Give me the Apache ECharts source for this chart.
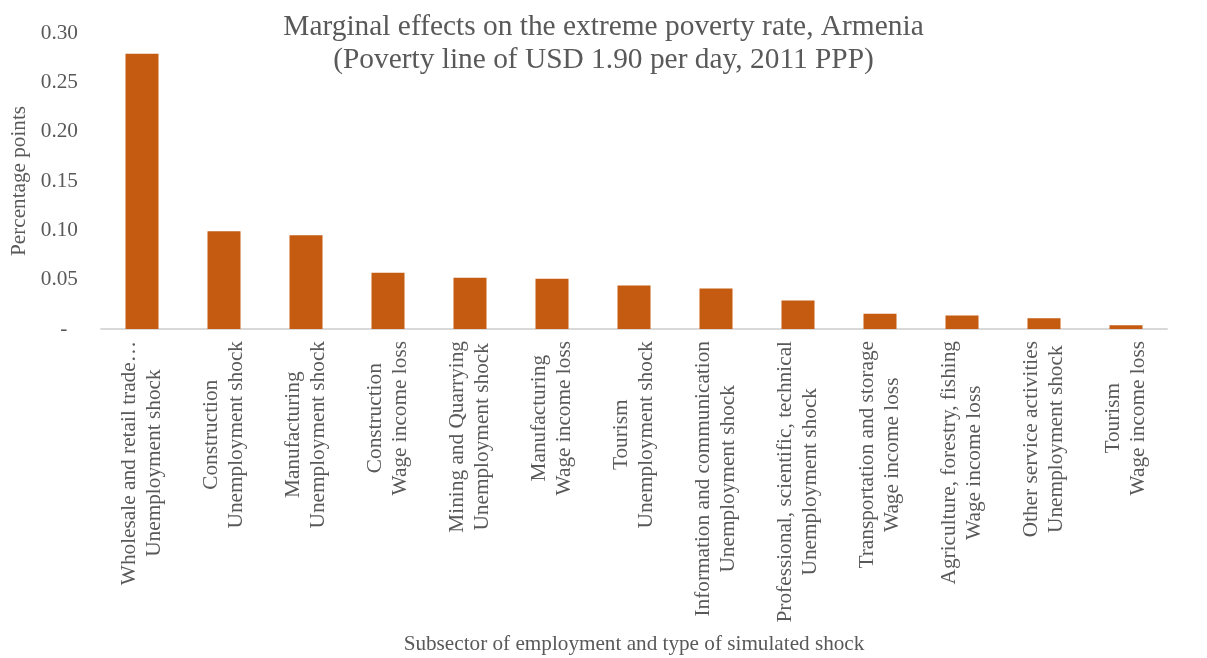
<!DOCTYPE html>
<html>
<head>
<meta charset="utf-8">
<script src="https://cdn.jsdelivr.net/npm/echarts@6/dist/echarts.min.js"></script>
<style>html,body{margin:0;padding:0;background:#fff}#c{width:1207px;height:658px}</style>
</head>
<body>
<div id="c"></div>
<script>
const titleLines = ['Marginal effects on the extreme poverty rate, Armenia', '(Poverty line of USD 1.90 per day, 2011 PPP)'];
const categories = [
  'Wholesale and retail trade…\nUnemployment shock',
  'Construction\nUnemployment shock',
  'Manufacturing\nUnemployment shock',
  'Construction\nWage income loss',
  'Mining and Quarrying\nUnemployment shock',
  'Manufacturing\nWage income loss',
  'Tourism\nUnemployment shock',
  'Information and communication\nUnemployment shock',
  'Professional, scientific, technical\nUnemployment shock',
  'Transportation and storage\nWage income loss',
  'Agriculture, forestry, fishing\nWage income loss',
  'Other service activities\nUnemployment shock',
  'Tourism\nWage income loss'
];
const values = [0.279, 0.099, 0.095, 0.057, 0.052, 0.051, 0.044, 0.041, 0.029, 0.0154, 0.0137, 0.011, 0.0039];
const yAxisName = 'Percentage points';
const xAxisName = 'Subsector of employment and type of simulated shock';

const FONT = '"Liberation Serif", "Times New Roman", serif';
const TXT = '#595959';
const chart = echarts.init(document.getElementById('c'));
chart.setOption({
  animation: false,
  title: {
    text: titleLines.join('\n'),
    left: 'center',
    top: 6,
    textStyle: { fontFamily: FONT, fontSize: 29.4, fontWeight: 'normal', color: TXT, lineHeight: 33 }
  },
  grid: { left: 101, right: 40, top: 33, bottom: 329 },
  xAxis: {
    type: 'category',
    data: categories,
    axisLine: { lineStyle: { color: '#d9d9d9', width: 2 } },
    axisTick: { show: false },
    axisLabel: {
      interval: 0,
      rotate: 90,
      margin: 12,
      formatter: function (v) { return v.split('\n').map(l => '{c|' + l + '}').join('\n'); },
      rich: { c: { align: 'center', fontFamily: FONT, fontSize: 21.3, color: TXT, lineHeight: 25 } }
    },
    name: xAxisName,
    nameLocation: 'middle',
    nameGap: 315,
    nameTextStyle: { fontFamily: FONT, fontSize: 21.2, color: TXT, verticalAlign: 'middle' }
  },
  yAxis: {
    type: 'value',
    min: 0,
    max: 0.3,
    interval: 0.05,
    splitLine: { show: false },
    axisLine: { show: false },
    axisTick: { show: false },
    axisLabel: {
      margin: 23,
      fontFamily: FONT, fontSize: 21.3, color: TXT,
      formatter: function (v) { return Math.abs(v) < 1e-9 ? '-  ' : v.toFixed(2); }
    },
    name: yAxisName,
    nameLocation: 'middle',
    nameGap: 81,
    nameTextStyle: { fontFamily: FONT, fontSize: 21.2, color: TXT, verticalAlign: 'middle' }
  },
  series: [{
    type: 'bar',
    data: values,
    barWidth: 33,
    itemStyle: { color: '#C55A11' }
  }]
});
</script>
</body>
</html>
